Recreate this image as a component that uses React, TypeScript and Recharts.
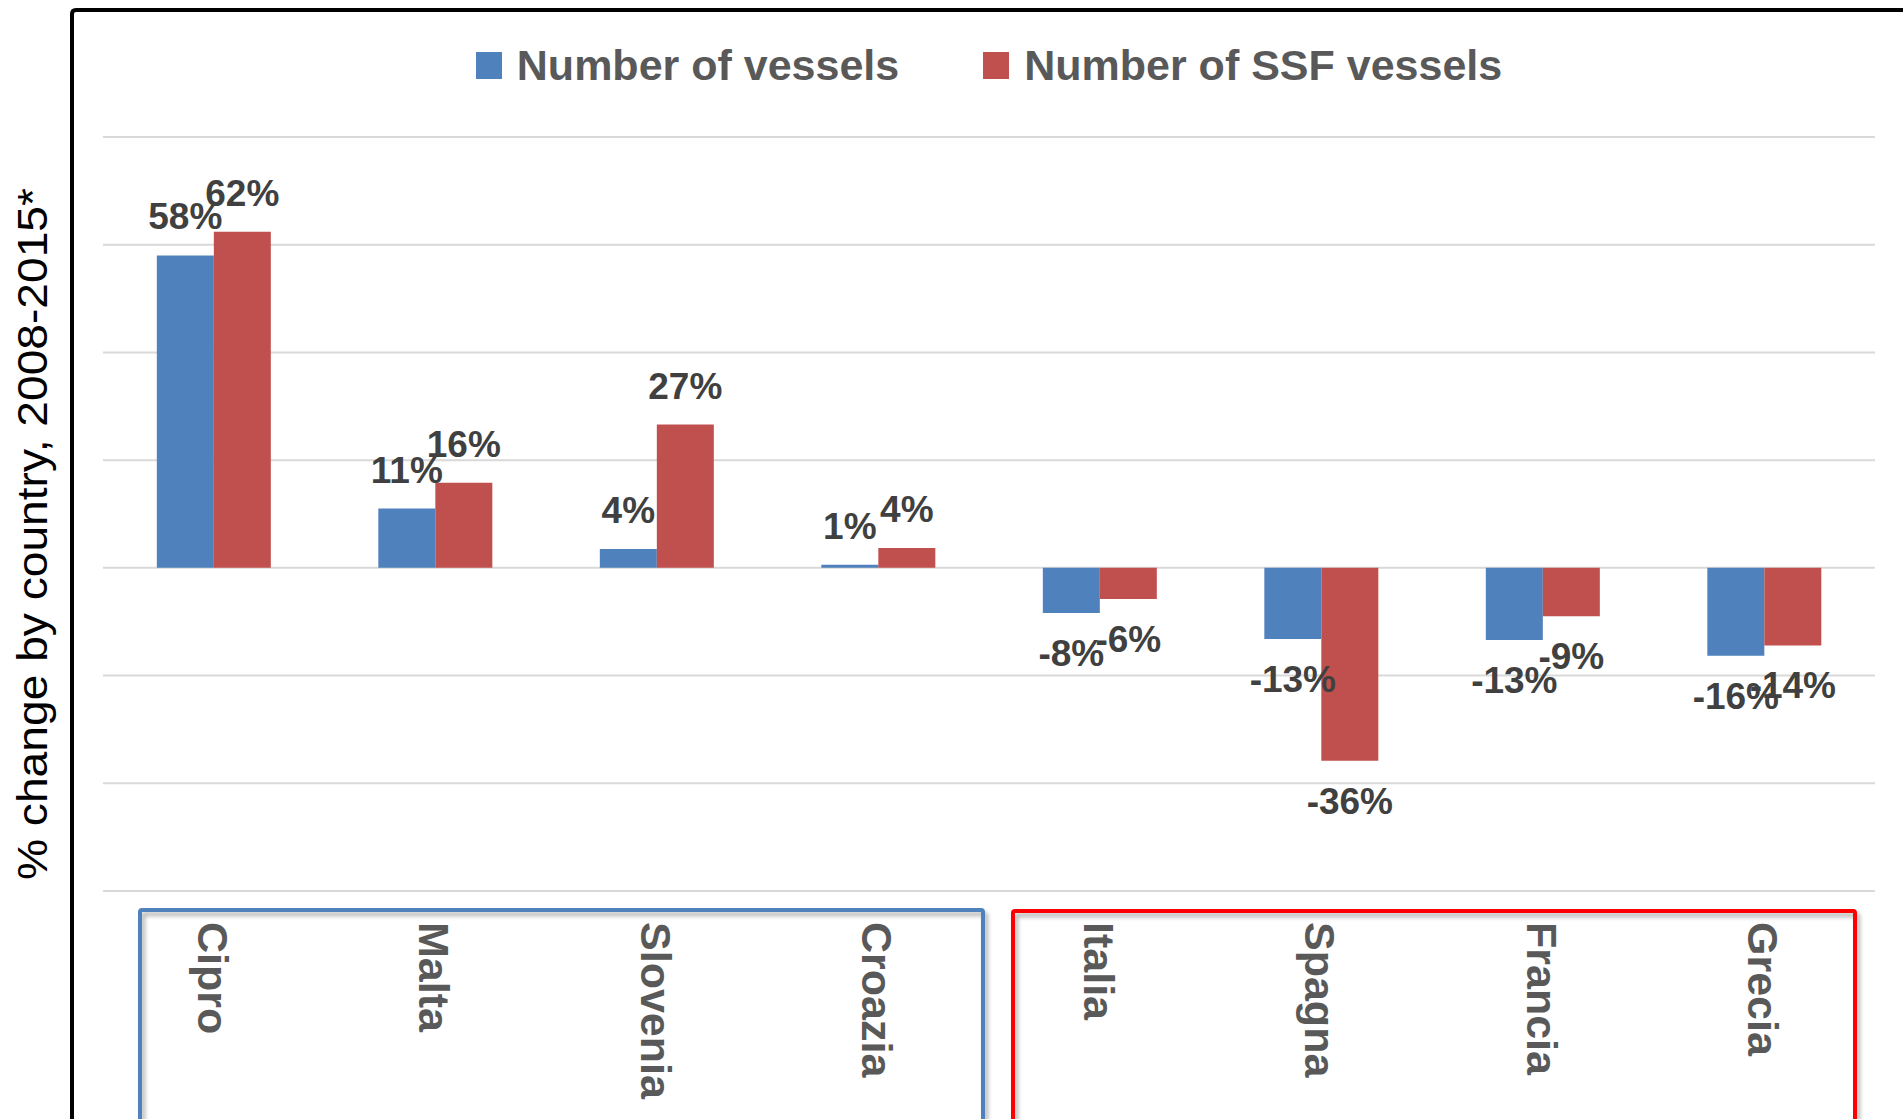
import React from 'react';
import { BarChart, Bar, XAxis, YAxis, CartesianGrid, Legend, LabelList } from 'recharts';

const categories = ['Cipro', 'Malta', 'Slovenia', 'Croazia', 'Italia', 'Spagna', 'Francia', 'Grecia'];
const vessels = [58, 11, 3.5, 0.6, -8.4, -13.2, -13.4, -16.3];
const ssfVessels = [62.4, 15.8, 26.6, 3.7, -5.8, -35.8, -9, -14.4];
const seriesNames = ['Number of vessels', 'Number of SSF vessels'];
const seriesColors = ['#4F81BD', '#C0504D'];
const yTicks = [-60, -40, -20, 0, 20, 40, 60, 80];
const yLabel = '% change by country, 2008-2015*';

const data = categories.map((name, i) => ({ name, vessels: vessels[i], ssf: ssfVessels[i] }));

const W = 1903;
const H = 1119;
const FONT = '"Liberation Sans", Arial, sans-serif';

const ValueLabel = (props: any) => {
  const { x, y, width, height, value } = props;
  const top = Math.min(y, y + height);
  const bottom = Math.max(y, y + height);
  const ty = value >= 0 ? top - 26 : bottom + 53;
  return (
    <text x={x + width / 2} y={ty} textAnchor="middle" fontFamily={FONT} fontWeight="bold" fontSize={37} fill="#404040">
      {`${Math.round(value)}%`}
    </text>
  );
};

const CategoryTick = (props: any) => {
  const { x, payload } = props;
  return (
    <text
      transform={`translate(${x - 16},922) rotate(90)`}
      textAnchor="start"
      fontFamily={FONT}
      fontWeight="bold"
      fontSize={43}
      fill="#595959"
    >
      {payload.value}
    </text>
  );
};

const LegendContent = () => (
  <div
    style={{
      display: 'flex',
      justifyContent: 'center',
      alignItems: 'center',
      gap: 84,
      fontFamily: FONT,
      fontWeight: 'bold',
      fontSize: 43,
      color: '#595959',
      height: 50,
    }}
  >
    {seriesNames.map((n, i) => (
      <div key={n} style={{ display: 'flex', alignItems: 'center' }}>
        <span style={{ width: 26, height: 27, background: seriesColors[i], marginRight: 15, display: 'inline-block' }} />
        <span style={{ lineHeight: '50px', whiteSpace: 'nowrap' }}>{n}</span>
      </div>
    ))}
  </div>
);

const App: React.FC = () => {
  return (
    <div style={{ position: 'absolute', left: 0, top: 0, width: W, height: H, background: '#fff', overflow: 'hidden' }}>
      <BarChart
        width={W}
        height={H}
        data={data}
        margin={{ top: 137, right: 28, left: 103, bottom: 0 }}
        barCategoryGap="24.3%"
        barGap={0}
      >
        <CartesianGrid vertical={false} stroke="#d9d9d9" strokeWidth={2} />
        <XAxis dataKey="name" height={228} axisLine={false} tickLine={false} tick={<CategoryTick />} interval={0} />
        <YAxis hide type="number" domain={[-60, 80]} ticks={yTicks} width={0} />
        <Legend
          verticalAlign="middle"
          align="center"
          layout="horizontal"
          content={<LegendContent />}
          wrapperStyle={{ top: 40, left: 103, width: 1772, height: 50 }}
        />
        <Bar dataKey="vessels" name={seriesNames[0]} fill={seriesColors[0]} isAnimationActive={false}>
          <LabelList dataKey="vessels" content={ValueLabel} />
        </Bar>
        <Bar dataKey="ssf" name={seriesNames[1]} fill={seriesColors[1]} isAnimationActive={false}>
          <LabelList dataKey="ssf" content={ValueLabel} />
        </Bar>
      </BarChart>
      <svg width={W} height={H} style={{ position: 'absolute', left: 0, top: 0, pointerEvents: 'none' }}>
        <defs>
          <filter id="boxShadow" x="-5%" y="-5%" width="110%" height="110%">
            <feDropShadow dx="3" dy="4" stdDeviation="2" floodColor="#000" floodOpacity="0.3" />
          </filter>
        </defs>
        <path d="M72,1140 L72,14 Q72,10 76,10 L1920,10" stroke="#000" strokeWidth={4} fill="none" />
        <rect x={140} y={910} width={843} height={260} rx={2} fill="none" stroke="#4F81BD" strokeWidth={4} filter="url(#boxShadow)" />
        <rect x={1013} y={911} width={842} height={260} rx={2} fill="none" stroke="#FF0000" strokeWidth={4} filter="url(#boxShadow)" />
        <text
          transform="translate(47,534) rotate(-90)"
          textAnchor="middle"
          fontFamily={FONT}
          fontSize={42}
          fill="#000"
          textLength={692}
          lengthAdjust="spacingAndGlyphs"
        >
          {yLabel}
        </text>
      </svg>
    </div>
  );
};

export default App;
